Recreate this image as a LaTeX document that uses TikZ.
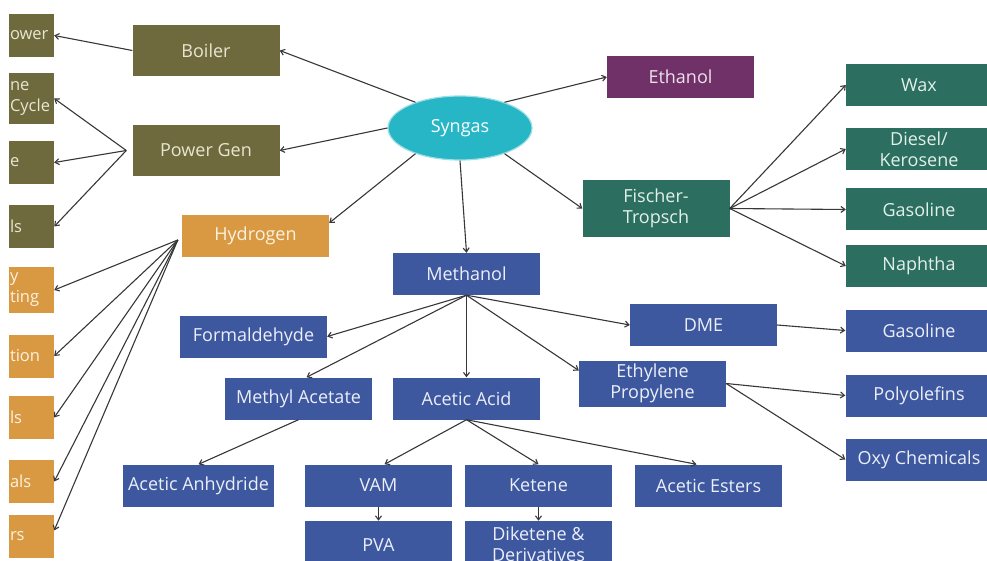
\documentclass[tikz,border=0pt]{standalone}
\usepackage{fontspec}
\setmainfont{Open Sans}
\usepackage{tikz}
\usetikzlibrary{arrows.meta,positioning,shapes.geometric}
\definecolor{olivefill}{RGB}{110,106,62}
\definecolor{olivetext}{RGB}{232,230,208}
\definecolor{tanfill}{RGB}{216,153,66}
\definecolor{tantext}{RGB}{252,242,224}
\definecolor{tealfill}{RGB}{44,110,96}
\definecolor{tealtext}{RGB}{226,240,234}
\definecolor{bluefill}{RGB}{62,88,160}
\definecolor{bluetext}{RGB}{236,239,248}
\definecolor{plumfill}{RGB}{112,48,104}
\definecolor{plumtext}{RGB}{238,226,236}
\definecolor{gasfill}{RGB}{38,182,198}
\definecolor{arrowgray}{RGB}{55,55,55}
\tikzset{
 chembox/.style={
 rectangle,
 inner sep=0pt,
 align=center,
 minimum width=147pt,
 minimum height=42pt,
 font=\fontsize{18}{21}\selectfont
 },
 olivebox/.style={chembox, fill=olivefill, text=olivetext},
 tanbox/.style={chembox, fill=tanfill, text=tantext},
 tealbox/.style={chembox, fill=tealfill, text=tealtext},
 bluebox/.style={chembox, fill=bluefill, text=bluetext},
 plumbox/.style={chembox, fill=plumfill, text=plumtext},
 stubbox/.style={
 rectangle,
 inner xsep=1pt,
 inner ysep=0pt,
 text width=43pt,
 align=left,
 minimum height=43pt,
 font=\fontsize{16.5}{21}\selectfont
 },
 gasellipse/.style={
 ellipse,
 fill=gasfill,
 draw=gasfill!45,
 line width=1.2pt,
 text=white,
 inner sep=0pt,
 minimum width=144pt,
 minimum height=64pt,
 font=\fontsize{18}{21}\selectfont
 },
 flowarrow/.style={-{Straight Barb[length=4pt,width=6pt]}, line width=1.1pt, draw=arrowgray}
}
\begin{document}
\begin{tikzpicture}[x=1pt, y=-1pt]
 \useasboundingbox (0,0) rectangle (987,561);
 \clip (0,0) rectangle (987,561);

 % left column, cut at the edge
 \node[stubbox, fill=olivefill, text=olivetext] (power) at (31.5,35.5) {ower};
 \node[stubbox, fill=olivefill, text=olivetext, minimum height=51pt] (cycle) at (31.5,98.5) {ne\\Cycle};
 \node[stubbox, fill=olivefill, text=olivetext] (eside) at (31.5,162.5) {e};
 \node[stubbox, fill=olivefill, text=olivetext] (lsone) at (31.5,226.5) {ls};
 \node[stubbox, fill=tanfill, text=tantext, minimum height=46pt] (heat) at (31.5,290) {y\\ting};
 \node[stubbox, fill=tanfill, text=tantext] (tion) at (31.5,356) {tion};
 \node[stubbox, fill=tanfill, text=tantext] (lstwo) at (31.5,417.5) {ls};
 \node[stubbox, fill=tanfill, text=tantext] (als) at (31.5,481.5) {als};
 \node[stubbox, fill=tanfill, text=tantext] (rs) at (31.5,536.5) {rs};

 \node[olivebox, minimum height=51pt] (boiler) at (206,50.5) {Boiler};
 \node[olivebox, minimum height=51pt] (pgen) at (206,150.5) {Power Gen};
 \node[tanbox] (hyd) at (255.5,236) {Hydrogen};

 \node[gasellipse] (syn) at (460,128) {Syngas};
 \node[plumbox] (ethanol) at (680.5,77) {Ethanol};
 \node[tealbox, minimum height=57pt] (ft) at (656,208.5) {Fischer-\\Tropsch};

 % Fischer-Tropsch products
 \node[tealbox, minimum width=146pt] (wax) at (919,85) {Wax};
 \node[tealbox, minimum width=146pt] (diesel) at (919,149) {Diesel/\\Kerosene};
 \node[tealbox, minimum width=146pt] (gasg) at (919,209.5) {Gasoline};
 \node[tealbox, minimum width=146pt] (naph) at (919,266) {Naphtha};

 % methanol chain
 \node[bluebox] (meth) at (466.5,274) {Methanol};
 \node[bluebox] (form) at (253.5,336.5) {Formaldehyde};
 \node[bluebox] (macet) at (298.5,398.5) {Methyl Acetate};
 \node[bluebox] (aacid) at (466.5,398.5) {Acetic Acid};
 \node[bluebox, minimum width=151pt] (aanh) at (198.5,485.5) {Acetic Anhydride};
 \node[bluebox] (vam) at (378.5,485.5) {VAM};
 \node[bluebox] (ketene) at (538.5,485.5) {Ketene};
 \node[bluebox] (aest) at (708.5,485.5) {Acetic Esters};
 \node[bluebox, minimum height=48pt, below=14pt of vam] (pva) {PVA};
 \node[bluebox, minimum height=46pt, below=14pt of ketene] (dik) {Diketene \&\\Derivatives};
 \node[bluebox] (dme) at (703.5,325) {DME};
 \node[bluebox, minimum height=46pt] (ethy) at (652.5,383.5) {Ethylene\\Propylene};
 \node[bluebox] (gasb) at (919,330.5) {Gasoline};
 \node[bluebox] (poly) at (919,395.5) {Polyolefins};
 \node[bluebox] (oxy) at (919,459.5) {Oxy Chemicals};

 \draw[flowarrow] (syn.150) -- (boiler.east);
 \draw[flowarrow] (boiler.west) -- (power.east);
 \draw[flowarrow] (syn.west) -- (pgen.east);
 \draw[flowarrow] ([xshift=-6pt]pgen.west) -- (cycle.east);
 \draw[flowarrow] ([xshift=-6pt]pgen.west) -- (eside.east);
 \draw[flowarrow] ([xshift=-6pt]pgen.west) -- (lsone.east);
 \draw[flowarrow] (syn.210) -- (hyd.10);
 \draw[flowarrow] ([xshift=-4pt,yshift=-4pt]hyd.west) -- (heat.east);
 \draw[flowarrow] ([xshift=-4pt,yshift=-4pt]hyd.west) -- (tion.east);
 \draw[flowarrow] ([xshift=-4pt,yshift=-4pt]hyd.west) -- (lstwo.east);
 \draw[flowarrow] ([xshift=-4pt,yshift=-4pt]hyd.west) -- (als.east);
 \draw[flowarrow] ([xshift=-4pt,yshift=-4pt]hyd.west) -- (rs.15);
 \draw[flowarrow] (syn.30) -- (ethanol.west);
 \draw[flowarrow] (syn.-30) -- (ft.west);
 \draw[flowarrow] (syn.south) -- (meth.north);

 \draw[flowarrow] (ft.east) -- (wax.west);
 \draw[flowarrow] (ft.east) -- (diesel.west);
 \draw[flowarrow] (ft.east) -- (gasg.west);
 \draw[flowarrow] (ft.east) -- (naph.west);

 \draw[flowarrow] (meth.south) -- (form.east);
 \draw[flowarrow] (meth.south) -- ([xshift=8pt]macet.north);
 \draw[flowarrow] (meth.south) -- (aacid.north);
 \draw[flowarrow] (meth.south) -- (ethy.170);
 \draw[flowarrow] (meth.south) -- (dme.west);
 \draw[flowarrow] (macet.south) -- (aanh.north);
 \draw[flowarrow] (aacid.south) -- ([xshift=6pt]vam.north);
 \draw[flowarrow] (aacid.south) -- (ketene.north);
 \draw[flowarrow] (aacid.south) -- ([xshift=-12pt]aest.north);
 \draw[flowarrow] (vam.south) -- (pva.north);
 \draw[flowarrow] (ketene.south) -- (dik.north);
 \draw[flowarrow] (dme.east) -- (gasb.west);
 \draw[flowarrow] (ethy.east) -- (poly.west);
 \draw[flowarrow] (ethy.east) -- (oxy.west);
\end{tikzpicture}
\end{document}
